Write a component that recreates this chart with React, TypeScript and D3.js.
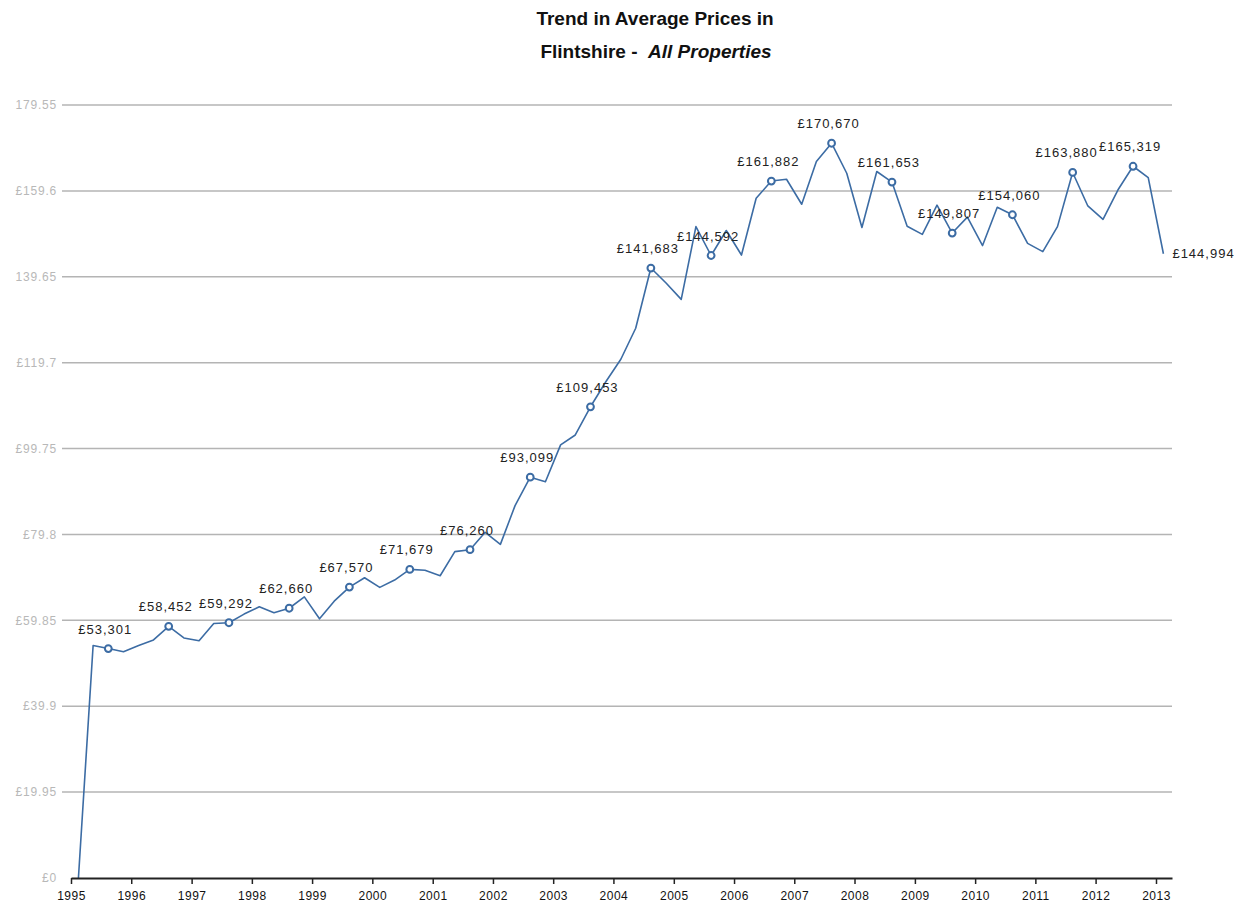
import { axisBottom, format, line, scaleLinear, scaleTime, select, timeParse, timeYear } from "d3";
import { useEffect, useRef } from "react";

// quarterly readings, Feb / May / Aug / Nov
const periods = [
  "1995-02", "1995-05", "1995-08", "1995-11",
  "1996-02", "1996-05", "1996-08", "1996-11",
  "1997-02", "1997-05", "1997-08", "1997-11",
  "1998-02", "1998-05", "1998-08", "1998-11",
  "1999-02", "1999-05", "1999-08", "1999-11",
  "2000-02", "2000-05", "2000-08", "2000-11",
  "2001-02", "2001-05", "2001-08", "2001-11",
  "2002-02", "2002-05", "2002-08", "2002-11",
  "2003-02", "2003-05", "2003-08", "2003-11",
  "2004-02", "2004-05", "2004-08", "2004-11",
  "2005-02", "2005-05", "2005-08", "2005-11",
  "2006-02", "2006-05", "2006-08", "2006-11",
  "2007-02", "2007-05", "2007-08", "2007-11",
  "2008-02", "2008-05", "2008-08", "2008-11",
  "2009-02", "2009-05", "2009-08", "2009-11",
  "2010-02", "2010-05", "2010-08", "2010-11",
  "2011-02", "2011-05", "2011-08", "2011-11",
  "2012-02", "2012-05", "2012-08", "2012-11",
  "2013-02",
];

const prices = [
  0, 54000, 53301, 52570,
  54000, 55300, 58452, 55750,
  55100, 59100, 59292, 61300,
  63000, 61600, 62660, 65300,
  60200, 64300, 67570, 69750,
  67500, 69200, 71679, 71500,
  70200, 75800, 76260, 80300,
  77500, 86500, 93099, 92050,
  100600, 102900, 109453, 115200,
  120500, 127700, 141683, 138200,
  134400, 151300, 144592, 150400,
  144700, 157900, 161882, 162300,
  156500, 166400, 170670, 163700,
  151100, 164100, 161653, 151400,
  149500, 156300, 149807, 153500,
  146900, 155800, 154060, 147400,
  145500, 151300, 163880, 156100,
  153000, 159800, 165319, 162700,
  144994,
];

// the August reading of each year carries a marker and label
const markedPeriods = [
  "1995-08", "1996-08", "1997-08", "1998-08", "1999-08", "2000-08",
  "2001-08", "2002-08", "2003-08", "2004-08", "2005-08", "2006-08",
  "2007-08", "2008-08", "2009-08", "2010-08", "2011-08", "2012-08",
];

const yTicks = [0, 19950, 39900, 59850, 79800, 99750, 119700, 139650, 159600, 179550];
const yTickLabels = ["£0", "£19.95", "£39.9", "£59.85", "£79.8", "£99.75", "£119.7", "139.65", "£159.6", "179.55"];

const lineColor = "#3c6ca4";
const font = "Arial, 'Liberation Sans', sans-serif";

const parseMonth = timeParse("%Y-%m");
const fmt = format(",");

function XAxis({ scale, y }) {
  const ref = useRef(null);

  useEffect(() => {
    if (!ref.current) return;
    const g = select(ref.current);
    g.call(
      axisBottom(scale)
        .ticks(timeYear.every(1))
        .tickFormat((d) => String(d.getFullYear()))
        .tickSize(6)
        .tickSizeOuter(0)
    );
    g.select(".domain").attr("stroke", "#222").attr("stroke-width", 2);
    g.selectAll(".tick line").attr("stroke", "#222").attr("stroke-width", 1.5);
    g.selectAll(".tick text")
      .attr("fill", "#111")
      .attr("font-size", 12)
      .attr("font-family", font)
      .attr("letter-spacing", 0.5)
      .attr("dy", "1.05em");
  }, [scale]);

  return <g ref={ref} transform={`translate(0,${y})`} />;
}

export default function App() {
  const width = 1253;
  const height = 904;
  const left = 71;
  const right = 1172;
  const top = 105;
  const bottom = 878;

  const points = periods.map((p, i) => {
    const d = parseMonth(p);
    d.setDate(15);
    return { period: p, date: d, value: prices[i] };
  });

  const x = scaleTime()
    .domain([new Date(1995, 0, 1), new Date(2013, 3, 8)])
    .range([left, right]);
  const y = scaleLinear().domain([0, 179550]).range([bottom, top]);

  const path = line()
    .x((d) => x(d.date))
    .y((d) => y(d.value))(points);

  const marked = points.filter((p) => markedPeriods.includes(p.period));
  const last = points[points.length - 1];

  return (
    <svg width={width} height={height} style={{ position: "absolute", left: 0, top: 0, background: "#fff" }}>
      <text x={655} y={25} textAnchor="middle" fontFamily={font} fontWeight="bold" fontSize={19} fill="#111">
        Trend in Average Prices in
      </text>
      <text x={656} y={58} textAnchor="middle" fontFamily={font} fontWeight="bold" fontSize={19} fill="#111">
        Flintshire -{"\u00a0\u00a0"}
        <tspan fontStyle="italic">All Properties</tspan>
      </text>

      {yTicks.map((t, i) => (
        <g key={`grid-${t}`}>
          {i > 0 && (
            <line x1={62} x2={right} y1={y(t)} y2={y(t)} stroke="#b4b4b4" strokeWidth={1.5} />
          )}
          <text
            x={57}
            y={y(t)}
            dy="0.35em"
            textAnchor="end"
            fontFamily={font}
            fontSize={12}
            letterSpacing={0.8}
            fill="#b8b8b8"
          >
            {yTickLabels[i]}
          </text>
        </g>
      ))}

      <path d={path} fill="none" stroke={lineColor} strokeWidth={1.6} strokeLinejoin="round" />

      <XAxis scale={x} y={bottom} />

      {marked.map((p) => (
        <g key={`m-${p.period}`}>
          <circle cx={x(p.date)} cy={y(p.value)} r={3.4} fill="#fff" stroke={lineColor} strokeWidth={2} />
          <text
            x={x(p.date) - (p.period === "2011-08" ? 6 : 3)}
            y={y(p.value) - 15}
            textAnchor="middle"
            fontFamily={font}
            fontSize={13}
            letterSpacing={1}
            fill="#222"
          >
            £{fmt(p.value)}
          </text>
        </g>
      ))}

      <text
        x={x(last.date) + 9}
        y={y(last.value)}
        dy="0.35em"
        fontFamily={font}
        fontSize={13}
        letterSpacing={1}
        fill="#222"
      >
        £{fmt(last.value)}
      </text>
    </svg>
  );
}
